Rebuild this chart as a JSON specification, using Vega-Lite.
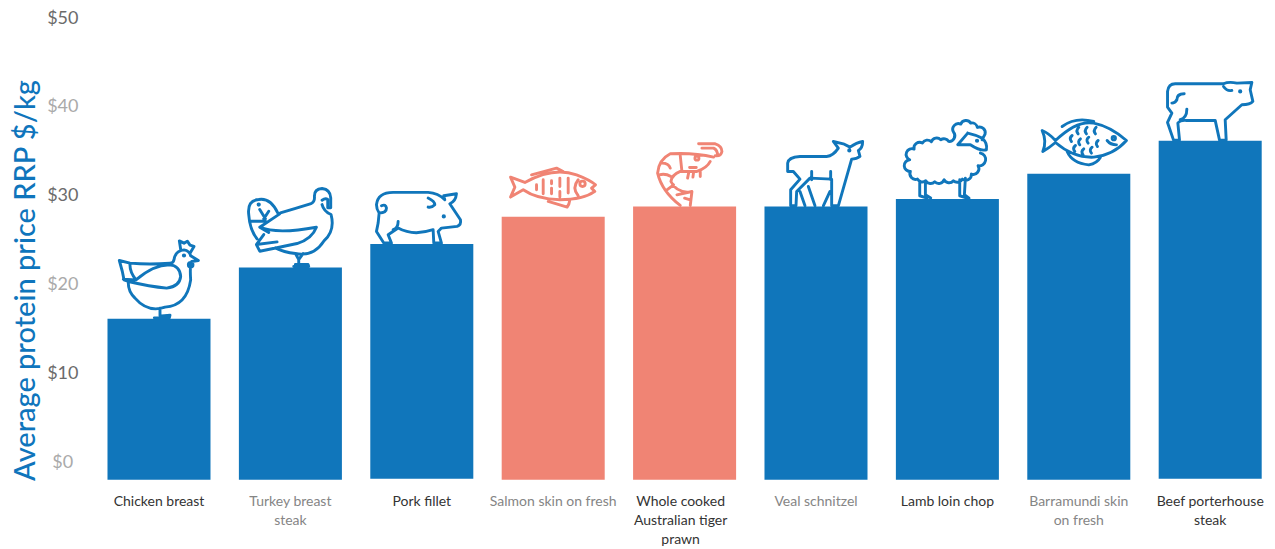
{"$schema":"https://vega.github.io/schema/vega-lite/v6.json","width":1182.6,"height":462,"autosize":"none","padding":{"left":93.3,"top":18,"right":0,"bottom":69},"background":"#ffffff","config":{"view":{"stroke":null}},"data":{"values":[
{"protein":"Chicken breast","price":16.16,"base":-1.94,"group":"blue"},
{"protein":"Turkey breast steak","price":21.93,"base":-1.94,"group":"blue"},
{"protein":"Pork fillet","price":24.57,"base":-1.82,"group":"blue"},
{"protein":"Salmon skin on fresh","price":27.64,"base":-1.94,"group":"coral"},
{"protein":"Whole cooked Australian tiger prawn","price":28.8,"base":-1.94,"group":"coral"},
{"protein":"Veal schnitzel","price":28.8,"base":-1.94,"group":"blue"},
{"protein":"Lamb loin chop","price":29.63,"base":-1.94,"group":"blue"},
{"protein":"Barramundi skin on fresh","price":32.47,"base":-1.94,"group":"blue"},
{"protein":"Beef porterhouse steak","price":36.19,"base":-1.82,"group":"blue"}
]},
"encoding":{"x":{"field":"protein","type":"nominal","sort":null,"scale":{"paddingInner":0.216,"paddingOuter":0.108},"axis":{"title":null,"domain":false,"ticks":false,"labelAngle":0,"labelAlign":"center","labelBaseline":"top","labelFont":"Lato","labelFontSize":14,"labelLineHeight":19,"labelPadding":15,"labelLimit":0,"labelOverlap":false,"labelBound":false,"labelFlush":false,"labelOffset":{"condition":{"test":"datum.value=='Whole cooked Australian tiger prawn'","value":-4},"value":0},"labelColor":{"condition":{"test":"indexof(['Turkey breast steak','Salmon skin on fresh','Veal schnitzel','Barramundi skin on fresh'],datum.value)>=0","value":"#858585"},"value":"#333333"},"labelExpr":"datum.label=='Turkey breast steak'?['Turkey breast','steak']:datum.label=='Whole cooked Australian tiger prawn'?['Whole cooked','Australian tiger','prawn']:datum.label=='Barramundi skin on fresh'?['Barramundi skin','on fresh']:datum.label=='Beef porterhouse steak'?['Beef porterhouse','steak']:datum.label"}},
"y":{"field":"price","type":"quantitative","scale":{"domain":[-1.97,50],"nice":false,"zero":false},"axis":{"values":[0,10,20,30,40,50],"format":"$d","grid":false,"domain":false,"ticks":false,"labelFont":"Lato","labelFontSize":18,"labelAlign":"center","labelBaseline":"middle","labelPadding":31,"labelColor":{"condition":{"test":"datum.value % 20 == 0","value":"#aaaaaa"},"value":"#6b6b6b"},"title":"Average protein price RRP $/kg","titleFont":"Lato","titleFontSize":29,"titleFontWeight":500,"titleColor":"#0f75bc","titleAngle":-90,"titleAlign":"center","titleBaseline":"alphabetic","titleX":-59,"titleY":262}},
"color":{"field":"group","type":"nominal","legend":null,"scale":{"domain":["blue","coral"],"range":["#1076bb","#f08474"]}}},
"layer":[
{"mark":{"type":"bar"},"encoding":{"y2":{"field":"base"}}},
{"mark":{"type":"point","filled":false,"opacity":1,"strokeWidth":2.9,"size":0.4444,"strokeJoin":"round","strokeCap":"round"},"encoding":{"shape":{"field":"protein","type":"nominal","legend":null,"scale":{"domain":["Chicken breast","Turkey breast steak","Pork fillet","Salmon skin on fresh","Whole cooked Australian tiger prawn","Veal schnitzel","Lamb loin chop","Barramundi skin on fresh","Beef porterhouse steak"],"range":[
"M-119,-175 L-87,-167 Q-27,-162 33,-167 Q43,-167 45,-177 Q49,-205 75,-207 Q91,-205 95,-189 L118,-175 L98,-172 Q92,-160 95,-117 Q84,-40 18,-35 Q-33,-17 -72,-62 Q-94,-83 -92,-112 L-105,-117 L-110,-142 Z M-92,-112 Q-27,-97 23,-92 Q62,-97 65,-127 Q63,-160 31,-162 Q-17,-162 -69,-117 M-87,-167 Q-89,-142 -69,-117 L-107,-119 M65,-209 L61,-234 L75,-227 L85,-233 L93,-221 L105,-217 L93,-197 M88,-162 a7,7 0 1 0 14,0 a7,7 0 1 0 -14,0 M73,-190 a2,2 0 1 0 4,0 a2,2 0 1 0 -4,0 M3,-32 L3,-9 M-14,-3 L31,-3 L33,-11 L8,-9",
"M-30,-164 Q20,-179 62,-192 Q74,-196 72,-214 Q72,-236 95,-237 Q120,-234 121,-209 L121,-179 L112,-179 L112,-204 Q105,-209 95,-202 M95,-189 Q100,-169 122,-159 Q135,-110 100,-79 Q70,-32 15,-42 Q-20,-46 -45,-59 M-38,-164 Q-60,-210 -95,-204 Q-130,-202 -125,-159 Q-122,-114 -100,-86 M-122,-139 L-75,-139 M-92,-174 L-75,-146 M-65,-169 L-80,-146 M-32,-161 L-92,-121 Q-40,-99 78,-121 Q65,-86 20,-72 Q-40,-59 -92,-49 L-102,-69 L-80,-99 M-92,-121 L-65,-105 M-40,-77 L-102,-69 M-97,-189 a2,2 0 1 0 4,0 a2,2 0 1 0 -4,0 M15,-42 L25,-24 L38,-42 M25,-24 L25,-9 M10,-3 L55,-3 L53,-9 L15,-9",
"M-128,-93 Q-136,-105 -136,-118 Q-132,-155 -86,-155 L19,-155 Q49,-153 69,-133 L66,-145 L104,-151 Q102,-128 84,-121 L116,-73 Q119,-58 106,-53 L59,-48 L49,-38 L59,-3 L36,-3 L34,-43 Q-26,-23 -71,-48 L-101,-28 L-91,-3 L-114,-3 L-136,-38 L-131,-63 Z M-128,-93 Q-106,-93 -106,-108 Q-108,-121 -121,-115 M-71,-68 Q-71,-48 -86,-43 M19,-138 Q39,-128 39,-118 Q29,-108 19,-111 M64,-83 a2,2 0 1 0 4,0 a2,2 0 1 0 -4,0",
"M-128,-119 L-85,-103 Q0,-151 70,-126 Q110,-111 127,-96 L115,-86 L125,-76 Q90,-51 20,-51 Q-50,-53 -90,-81 L-128,-59 L-115,-89 Z M-65,-126 L10,-146 L30,-136 M-15,-46 L42,-29 Q48,-36 50,-51 M75,-111 Q55,-86 75,-63 M80,-99 a8,8 0 1 0 16,0 a8,8 0 1 0 -16,0 M-50,-96 L-50,-81 M-30,-111 L-30,-69 M-5,-108 L-5,-99 M-5,-86 L-5,-69 M20,-116 L20,-91 M20,-76 L20,-59 M45,-116 L45,-71",
"M42,-188 L92,-188 Q112,-182 112,-165 Q109,-150 92,-152 M52,-175 L87,-175 Q99,-170 99,-152 M87,-148 Q27,-162 -43,-158 Q-78,-140 -81,-100 Q-68,-45 -13,-3 M77,-135 Q67,-115 37,-105 L-13,-105 Q-38,-95 -41,-75 Q-28,-45 12,-42 M-23,-35 L22,-45 L17,-3 M0,-25 L17,-20 M-13,-152 L-8,-105 M31,-145 a6,6 0 1 0 12,0 a6,6 0 1 0 -12,0 M12,-100 L9,-85 M27,-103 L25,-88 M47,-105 L47,-90 M15,-117 L35,-117 M-68,-130 Q-48,-130 -43,-115 M-76,-95 Q-58,-100 -41,-90 M-53,-50 L-33,-65",
"M67,-175 Q52,-152 32,-150 L-48,-150 Q-83,-148 -85,-130 L-85,-105 L-68,-105 L-48,-82 L-76,-50 L-76,-2 L-60,-2 L-58,-45 L-18,-85 L47,-82 L47,-2 L67,-2 L107,-142 Q122,-142 132,-150 L127,-168 Q140,-175 140,-195 Q122,-192 102,-178 L82,-188 L52,-195 Z M-48,-45 L-33,-2 M-23,-60 L-3,-2 M22,-2 L42,-45 M-13,-105 L-13,-80 M44,-105 L44,-80 M98,-168 a2,2 0 1 0 4,0 a2,2 0 1 0 -4,0",
"M-111,-83 A17,17 0 0 1 -113,-118 A17,17 0 0 1 -100,-150 A17,17 0 0 1 -75,-168 A17,17 0 0 1 -48,-172 A17,17 0 0 1 -20,-178 A17,17 0 0 1 4,-173 A17,17 0 0 0 19,-200 A17,17 0 0 1 40,-225 A17,17 0 0 1 70,-228 A17,17 0 0 1 90,-215 A17,17 0 0 1 113,-195 L104,-178 M61,-198 L31,-163 L69,-163 Q99,-143 117,-148 Q121,-168 104,-183 Q84,-193 61,-198 M99,-138 A17,17 0 0 1 92,-100 A17,17 0 0 1 72,-75 A17,17 0 0 1 45,-60 A17,17 0 0 1 18,-55 A17,17 0 0 1 -10,-58 A17,17 0 0 1 -38,-52 A17,17 0 0 1 -65,-55 A17,17 0 0 1 -90,-60 A17,17 0 0 1 -111,-83 M-83,-53 L-83,-10 L-61,-3 M-66,-53 L-66,-13 L-50,-3 M37,-58 L37,-10 L59,-3 M54,-63 L51,-13 L65,-3 M87,-175 a2,2 0 1 0 4,0 a2,2 0 1 0 -4,0",
"M-70,-100 Q-5,-162 45,-152 Q95,-142 143,-100 Q105,-57 45,-50 Q-15,-47 -70,-94 Q-90,-77 -108,-67 Q-95,-97 -110,-130 Q-90,-122 -70,-100 M-50,-142 Q-10,-172 45,-157 M-35,-67 Q-20,-32 30,-27 Q55,-32 65,-50 M-20,-115 Q-30,-107 -22,-97 M-10,-85 Q-20,-77 -12,-67 M0,-140 Q-10,-130 -2,-120 M5,-105 Q-5,-97 3,-87 M15,-75 Q5,-67 13,-57 M25,-140 Q15,-130 23,-120 M30,-110 Q20,-102 28,-92 M40,-80 Q30,-72 38,-62 M52,-140 Q42,-130 50,-120 M58,-100 Q48,-92 56,-82 M85,-100 Q95,-87 113,-87 M100,-107 a5,5 0 1 0 10,0 a5,5 0 1 0 -10,0",
"M-128,-101 L-128,-148 Q-125,-171 -105,-171 L40,-171 Q55,-178 80,-173 L125,-175 L120,-153 L128,-118 Q120,-108 95,-108 L45,-63 L48,-2 L28,-2 L15,-61 L-70,-61 Q-90,-63 -97,-53 L-92,-2 L-110,-2 L-128,-55 L-115,-83 Z M-78,-141 Q-100,-141 -100,-123 Q-105,-113 -115,-113 M-70,-95 Q-70,-68 -90,-63 M40,-163 Q50,-148 65,-151 M88,-148 a2,2 0 1 0 4,0 a2,2 0 1 0 -4,0"
]}}}}
]}
